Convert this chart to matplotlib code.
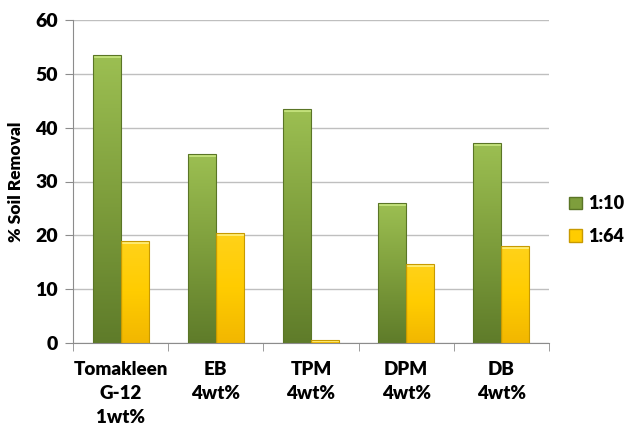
import matplotlib
matplotlib.use("Agg")
import matplotlib.pyplot as plt
import numpy as np
from matplotlib.colors import LinearSegmentedColormap
from matplotlib.patches import Patch

categories = ["Tomakleen\nG-12\n1wt%", "EB\n4wt%", "TPM\n4wt%", "DPM\n4wt%", "DB\n4wt%"]
series_names = ["1:10", "1:64"]
values_110 = [53.5, 35.2, 43.5, 26.0, 37.2]
values_164 = [19.0, 20.5, 0.5, 14.7, 18.1]
yticks = [0, 10, 20, 30, 40, 50, 60]

plt.rcParams['font.family'] = ['Lato', 'DejaVu Sans']

fig = plt.figure(figsize=(6.26, 4.26), dpi=100)
ax = fig.add_axes([73/626, 1-343/426, (549-73)/626, (343-20)/426])

x = np.arange(len(categories))
w = 0.294
green_cmap = LinearSegmentedColormap.from_list("g", ["#5F7C2A", "#7E9E3C", "#9CBF52"])
yellow_cmap = LinearSegmentedColormap.from_list("y", ["#F2B700", "#FFCC00", "#FFD21A"])

def grad_bars(xs, vals, cmap, edge, top):
    bars = ax.bar(xs, vals, w, color="none", edgecolor=edge, linewidth=0.8, zorder=3)
    for b in bars:
        x0, y0 = b.get_x(), b.get_y()
        bw, bh = b.get_width(), b.get_height()
        grad = np.linspace(0, 1, 100).reshape(-1, 1)
        im = ax.imshow(grad, extent=[x0, x0 + bw, y0, y0 + bh], origin="lower",
                       aspect="auto", cmap=cmap, zorder=2)
        im.set_clip_path(b)
        ax.fill_between([x0, x0 + bw], y0 + bh - min(0.6, bh * 0.5), y0 + bh,
                        color=top, zorder=2.5, linewidth=0)
    return bars

grad_bars(x - w / 2, values_110, green_cmap, "#5A7526", "#C2E07A")
grad_bars(x + w / 2, values_164, yellow_cmap, "#C89A00", "#FFEB70")

ax.set_xlim(-0.5, len(categories) - 0.5)
ax.set_ylim(0, 60)
ax.set_yticks(yticks)
ax.set_yticklabels([str(v) for v in yticks], fontsize=14, fontweight="heavy")
ax.set_xticks(x)
ax.set_xticklabels(categories, fontsize=13.5, fontweight="heavy", linespacing=1.5)
ax.set_xticks(np.arange(len(categories) + 1) - 0.5, minor=True)
ax.tick_params(axis="x", which="major", length=0, pad=13)
ax.tick_params(axis="x", which="minor", length=6, color="#8C8C8C", direction="out")
ax.tick_params(axis="y", length=6, color="#8C8C8C", direction="out", pad=5)
ax.yaxis.grid(True, color="#BFBFBF", linewidth=1, zorder=0)
ax.set_axisbelow(True)
for s in ["top", "right"]:
    ax.spines[s].set_visible(False)
for s in ["left", "bottom"]:
    ax.spines[s].set_color("#8C8C8C")

ax.set_ylabel("% Soil Removal", fontsize=12.5, fontweight="heavy", labelpad=8)

handles = [Patch(facecolor="#7E9E3C", edgecolor="#5A7526"),
           Patch(facecolor="#FFCC00", edgecolor="#C89A00")]
fig.legend(handles, series_names, loc="center left", bbox_to_anchor=(569/626, 1-220/426),
           frameon=False, borderpad=0, borderaxespad=0,
           prop={"weight": "heavy", "size": 13},
           handlelength=0.7, handleheight=0.7, handletextpad=0.35, labelspacing=0.85)

fig.savefig("out.png", dpi=100)
